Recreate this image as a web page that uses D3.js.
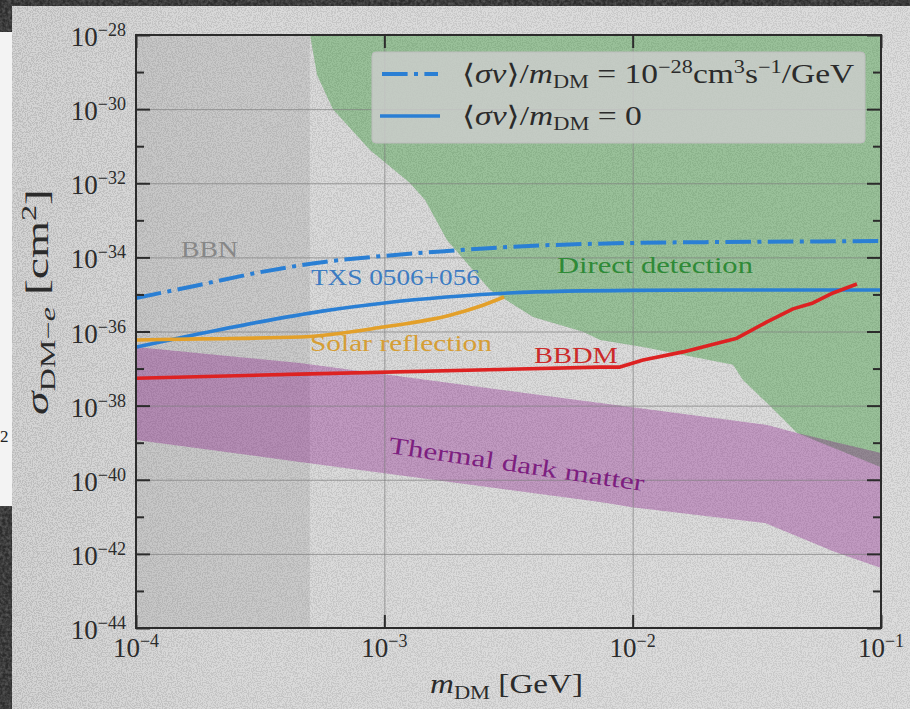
<!DOCTYPE html>
<html>
<head>
<meta charset="utf-8">
<script src="https://cdn.jsdelivr.net/npm/d3@7"></script>
<style>
  html, body { margin: 0; padding: 0; background: #2c2c2c; overflow: hidden; }
  svg { display: block; }
  text { font-family: "Liberation Serif", "DejaVu Serif", serif; }
</style>
</head>
<body>
<svg id="chart" width="910" height="709"></svg>
<script>
// ---- data (log10 of mass in GeV, log10 of cross section in cm^2) ----
const xTickExps = [-4, -3, -2, -1];
const yTickExps = [-28, -30, -32, -34, -36, -38, -40, -42, -44];
const yMinorExps = [-29, -31, -33, -35, -37, -39, -41, -43];

const bbnRange = [-4, -3.3];

// Direct detection exclusion: top edge, right edge, then lower boundary back to the left
const directDetection = [
  [-3.299, -28], [-1, -28], [-1, -39.66],
  [-1.338, -38.74], [-1.459, -37.93], [-1.556, -37.31], [-1.596, -36.90],
  [-1.958, -36.42], [-2.131, -36.23], [-2.200, -36.01], [-2.401, -35.61],
  [-2.574, -34.88], [-2.748, -33.53], [-2.836, -32.45], [-2.897, -31.99],
  [-3.058, -31.10], [-3.207, -30.00], [-3.271, -29.08]
];

// Thermal dark matter band
const thermalUpper = [
  [-4, -36.42], [-3.340, -36.85], [-2.131, -37.93], [-1.459, -38.52],
  [-1.338, -38.74], [-1, -39.28]
];
const thermalLower = [
  [-4, -38.93], [-3.340, -39.52], [-2.131, -40.60], [-2.003, -40.74],
  [-1.467, -41.17], [-1.185, -41.95], [-1, -42.38]
];

// TXS 0506+056 limits
const txsAnnihilating = [
  [-4, -35.10], [-3.75, -34.75], [-3.5, -34.40], [-3.25, -34.13], [-3.0, -33.96],
  [-2.75, -33.83], [-2.5, -33.72], [-2.0, -33.61], [-1.5, -33.58], [-1.0, -33.56]
];
const txsNoAnnihilation = [
  [-4, -36.42], [-3.75, -36.07], [-3.5, -35.74], [-3.25, -35.45], [-3.0, -35.23],
  [-2.75, -35.07], [-2.5, -34.96], [-2.0, -34.89], [-1.5, -34.88], [-1.0, -34.88]
];

const solarReflection = [
  [-4, -36.23], [-3.742, -36.20], [-3.340, -36.15], [-3.005, -35.88],
  [-2.736, -35.56], [-2.603, -35.29], [-2.518, -35.07]
];

const bbdm = [
  [-4, -37.26], [-3.340, -37.15], [-2.131, -36.96], [-2.051, -36.96],
  [-1.958, -36.77], [-1.797, -36.55], [-1.580, -36.18], [-1.459, -35.74],
  [-1.354, -35.39], [-1.274, -35.23], [-1.193, -34.96], [-1.097, -34.72]
];

// ---- layout ----
const svg = d3.select("#chart");
const plot = { left: 136, right: 881, top: 35, bottom: 628 };
const x = d3.scaleLog().domain([1e-4, 1e-1]).range([plot.left, plot.right]);
const y = d3.scaleLog().domain([1e-44, 1e-28]).range([plot.bottom, plot.top]);
const P = e => Math.pow(10, e);
const px = d => x(P(d[0]));
const py = d => y(P(d[1]));

const ink = "#2b2b2b";

const defs = svg.append("defs");
const bgGrad = defs.append("linearGradient").attr("id", "bgGrad")
  .attr("x1", 0).attr("x2", 1).attr("y1", 0).attr("y2", 0);
bgGrad.append("stop").attr("offset", "0%").attr("stop-color", "#bcbcbc");
bgGrad.append("stop").attr("offset", "25%").attr("stop-color", "#c5c5c5");
bgGrad.append("stop").attr("offset", "60%").attr("stop-color", "#c9c9c9");
bgGrad.append("stop").attr("offset", "100%").attr("stop-color", "#cacaca");

// speckle texture
const speck = defs.append("filter").attr("id", "speck").attr("x", 0).attr("y", 0)
  .attr("width", "100%").attr("height", "100%");
speck.append("feTurbulence").attr("type", "fractalNoise").attr("baseFrequency", 0.8)
  .attr("numOctaves", 2).attr("seed", 4).attr("result", "n");
speck.append("feColorMatrix").attr("in", "n").attr("type", "matrix")
  .attr("values", "0 0 0 0 1  0 0 0 0 1  0 0 0 0 1  0 0 0 -9 5.2");

const rough = defs.append("filter").attr("id", "rough").attr("x", 0).attr("y", 0)
  .attr("width", "100%").attr("height", "100%");
rough.append("feTurbulence").attr("type", "fractalNoise").attr("baseFrequency", 0.35)
  .attr("numOctaves", 3).attr("seed", 9).attr("result", "n");
rough.append("feColorMatrix").attr("in", "n").attr("type", "matrix")
  .attr("values", "0 0 0 0 0.6  0 0 0 0 0.6  0 0 0 0 0.6  0 0 0 0.5 -0.15");

defs.append("clipPath").attr("id", "plotClip").append("rect")
  .attr("x", plot.left).attr("y", plot.top)
  .attr("width", plot.right - plot.left).attr("height", plot.bottom - plot.top);

// ---- backdrop ----
svg.append("rect").attr("width", 910).attr("height", 709).attr("fill", "#2c2c2c");
svg.append("rect").attr("width", 910).attr("height", 709).attr("filter", "url(#rough)");
svg.append("rect").attr("x", 0).attr("y", 32).attr("width", 14).attr("height", 474).attr("fill", "#f3f3f3");
svg.append("text").attr("x", 0).attr("y", 442).attr("font-size", 17).attr("fill", "#222").text("2");

svg.append("rect").attr("x", 12).attr("y", 6).attr("width", 898).attr("height", 703)
  .attr("fill", "url(#bgGrad)");
svg.append("rect").attr("x", 12).attr("y", 6).attr("width", 898).attr("height", 703)
  .attr("filter", "url(#speck)").attr("opacity", 0.35);

// ---- plot body ----
const body = svg.append("g").attr("clip-path", "url(#plotClip)");

body.append("rect")
  .attr("x", x(P(bbnRange[0]))).attr("y", plot.top)
  .attr("width", x(P(bbnRange[1])) - x(P(bbnRange[0])))
  .attr("height", plot.bottom - plot.top)
  .attr("fill", "#808080").attr("opacity", 0.18);

const area = d3.line().x(px).y(py);
body.append("path").attr("d", area(directDetection) + "Z")
  .attr("fill", "#008000").attr("fill-opacity", 0.3);

body.append("path").attr("d", area(thermalUpper.concat(thermalLower.slice().reverse())) + "Z")
  .attr("fill", "#800080").attr("fill-opacity", 0.3);

// grid
const gridColor = "#7d7d7d";
body.append("g").attr("transform", `translate(${plot.left},0)`)
  .call(d3.axisLeft(y).tickValues(yTickExps.map(P)).tickSize(-(plot.right - plot.left)).tickFormat(""))
  .call(g => g.select(".domain").remove())
  .call(g => g.selectAll("line").attr("stroke", gridColor).attr("stroke-width", 1).attr("stroke-opacity", 0.7));
body.append("g").attr("transform", `translate(0,${plot.bottom})`)
  .call(d3.axisBottom(x).tickValues(xTickExps.map(P)).tickSize(-(plot.bottom - plot.top)).tickFormat(""))
  .call(g => g.select(".domain").remove())
  .call(g => g.selectAll("line").attr("stroke", gridColor).attr("stroke-width", 1).attr("stroke-opacity", 0.7));

// curves
const smooth = d3.line().x(px).y(py).curve(d3.curveMonotoneX);
const straight = d3.line().x(px).y(py);

body.append("path").attr("d", smooth(txsAnnihilating)).attr("fill", "none")
  .attr("stroke", "#2a7fd4").attr("stroke-width", 4).attr("stroke-dasharray", "25.6,6.4,4,6.4");
body.append("path").attr("d", smooth(txsNoAnnihilation)).attr("fill", "none")
  .attr("stroke", "#2a7fd4").attr("stroke-width", 3.6);
body.append("path").attr("d", smooth(solarReflection)).attr("fill", "none")
  .attr("stroke", "#e3a02a").attr("stroke-width", 3.6);
body.append("path").attr("d", straight(bbdm)).attr("fill", "none")
  .attr("stroke", "#dd2222").attr("stroke-width", 3.6).attr("stroke-linejoin", "round");

// ---- helpers for math-style text ----
function rich(textSel, segs, baseSize) {
  let prev = 0;
  segs.forEach(s => {
    const sh = s.sh || 0;
    const ts = textSel.append("tspan").text(s.t)
      .attr("dy", -(sh - prev))
      .attr("font-size", s.fs || baseSize);
    if (s.it) ts.attr("font-style", "italic");
    if (s.ff) ts.style("font-family", s.ff);
    prev = sh;
  });
  return textSel;
}
function fitWidth(sel, target) {
  const bb = sel.node().getBBox();
  const s = target / bb.width;
  const x0 = bb.x;
  const prev = sel.attr("transform") || "";
  sel.attr("transform", `${prev} translate(${x0},0) scale(${s},1) translate(${-x0},0)`);
}

// region labels
function label(txt, x0, yb, color, size, w) {
  const t = svg.append("text").attr("x", x0).attr("y", yb)
    .attr("font-size", size).attr("fill", color).text(txt);
  fitWidth(t, w);
  return t;
}
label("BBN", 181, 257, "#878787", 24, 57);
label("TXS 0506+056", 311, 285, "#3d7cc2", 23, 169);
label("Direct detection", 557, 273, "#2f8a37", 24, 196);
label("Solar reflection", 310, 351, "#d69e35", 24, 182);
label("BBDM", 534, 363, "#cc2a2a", 24, 84);
const thermal = svg.append("g").attr("transform", "translate(388,453) rotate(8.5)");
const thermalText = thermal.append("text").attr("x", 0).attr("y", 0)
  .attr("font-size", 24).attr("fill", "#7d1f80").text("Thermal dark matter");
fitWidth(thermalText, 258);

// ---- legend ----
const legend = svg.append("g");
legend.append("rect").attr("x", 372).attr("y", 52).attr("width", 493).attr("height", 91)
  .attr("rx", 4).attr("fill", "#cdcdcd").attr("fill-opacity", 0.82)
  .attr("stroke", "#bcbcbc").attr("stroke-width", 1);
legend.append("line").attr("x1", 382).attr("x2", 438).attr("y1", 74).attr("y2", 74)
  .attr("stroke", "#2a7fd4").attr("stroke-width", 4).attr("stroke-dasharray", "25.6,6.4,4,6.4");
legend.append("line").attr("x1", 380).attr("x2", 440).attr("y1", 116).attr("y2", 116)
  .attr("stroke", "#2a7fd4").attr("stroke-width", 3.6);

const angleFont = "'DejaVu Serif', 'Liberation Serif', serif";
const lg1 = rich(legend.append("text").attr("x", 462).attr("y", 83).attr("fill", ink), [
  { t: "\u27E8", ff: angleFont }, { t: "σv", it: true }, { t: "\u27E9", ff: angleFont }, { t: "/" },
  { t: "m", it: true }, { t: "DM", sh: -5, fs: 18 },
  { t: " = 10" }, { t: "−28", sh: 10, fs: 18 },
  { t: "cm" }, { t: "3", sh: 10, fs: 18 }, { t: "s" }, { t: "−1", sh: 10, fs: 18 }, { t: "/GeV" }
], 27);
fitWidth(lg1, 393);
const lg2 = rich(legend.append("text").attr("x", 462).attr("y", 125).attr("fill", ink), [
  { t: "\u27E8", ff: angleFont }, { t: "σv", it: true }, { t: "\u27E9", ff: angleFont }, { t: "/" },
  { t: "m", it: true }, { t: "DM", sh: -5, fs: 18 }, { t: " = 0" }
], 27);
fitWidth(lg2, 180);

// ---- axes (ticks point inward) ----
const tickStyle = g => {
  g.select(".domain").remove();
  g.selectAll("line").attr("stroke", ink).attr("stroke-width", 2);
};
svg.append("g").attr("transform", `translate(${plot.left},0)`)
  .call(d3.axisLeft(y).tickValues(yTickExps.map(P)).tickSize(-14).tickFormat("")).call(tickStyle);
svg.append("g").attr("transform", `translate(${plot.left},0)`)
  .call(d3.axisLeft(y).tickValues(yMinorExps.map(P)).tickSize(-8).tickFormat("")).call(tickStyle);
svg.append("g").attr("transform", `translate(${plot.right},0)`)
  .call(d3.axisRight(y).tickValues(yTickExps.map(P)).tickSize(-14).tickFormat("")).call(tickStyle);
svg.append("g").attr("transform", `translate(${plot.right},0)`)
  .call(d3.axisRight(y).tickValues(yMinorExps.map(P)).tickSize(-8).tickFormat("")).call(tickStyle);
svg.append("g").attr("transform", `translate(0,${plot.top})`)
  .call(d3.axisTop(x).tickValues(xTickExps.map(P)).tickSize(-13).tickFormat("")).call(tickStyle);
svg.append("g").attr("transform", `translate(0,${plot.bottom})`)
  .call(d3.axisBottom(x).tickValues(xTickExps.map(P)).tickSize(-13).tickFormat("")).call(tickStyle);

svg.append("rect").attr("x", plot.left).attr("y", plot.top)
  .attr("width", plot.right - plot.left).attr("height", plot.bottom - plot.top)
  .attr("fill", "none").attr("stroke", ink).attr("stroke-width", 2);

// tick labels
yTickExps.forEach(e => {
  rich(svg.append("text").attr("x", 126).attr("y", y(P(e)) + 11)
    .attr("text-anchor", "end").attr("fill", ink),
    [{ t: "10" }, { t: "−" + Math.abs(e), sh: 10, fs: 18 }], 27);
});
xTickExps.forEach(e => {
  rich(svg.append("text").attr("x", x(P(e))).attr("y", 657)
    .attr("text-anchor", "middle").attr("fill", ink),
    [{ t: "10" }, { t: "−" + Math.abs(e), sh: 10, fs: 18 }], 27);
});

// axis titles
const xt = rich(svg.append("text").attr("x", 430).attr("y", 693).attr("fill", ink), [
  { t: "m", it: true }, { t: "DM", sh: -6, fs: 19 }, { t: " [GeV]" }
], 28);
fitWidth(xt, 153);

const ytG = svg.append("g").attr("transform", "translate(48,0) rotate(-90)");
const yt = rich(ytG.append("text").attr("x", -415).attr("y", 0).attr("fill", ink), [
  { t: "σ", it: true }, { t: "DM−", sh: -7, fs: 21 }, { t: "e", sh: -7, fs: 21, it: true },
  { t: " [cm" }, { t: "2", sh: 12, fs: 21 }, { t: "]" }
], 31);
fitWidth(yt, 226);
</script>
</body>
</html>
